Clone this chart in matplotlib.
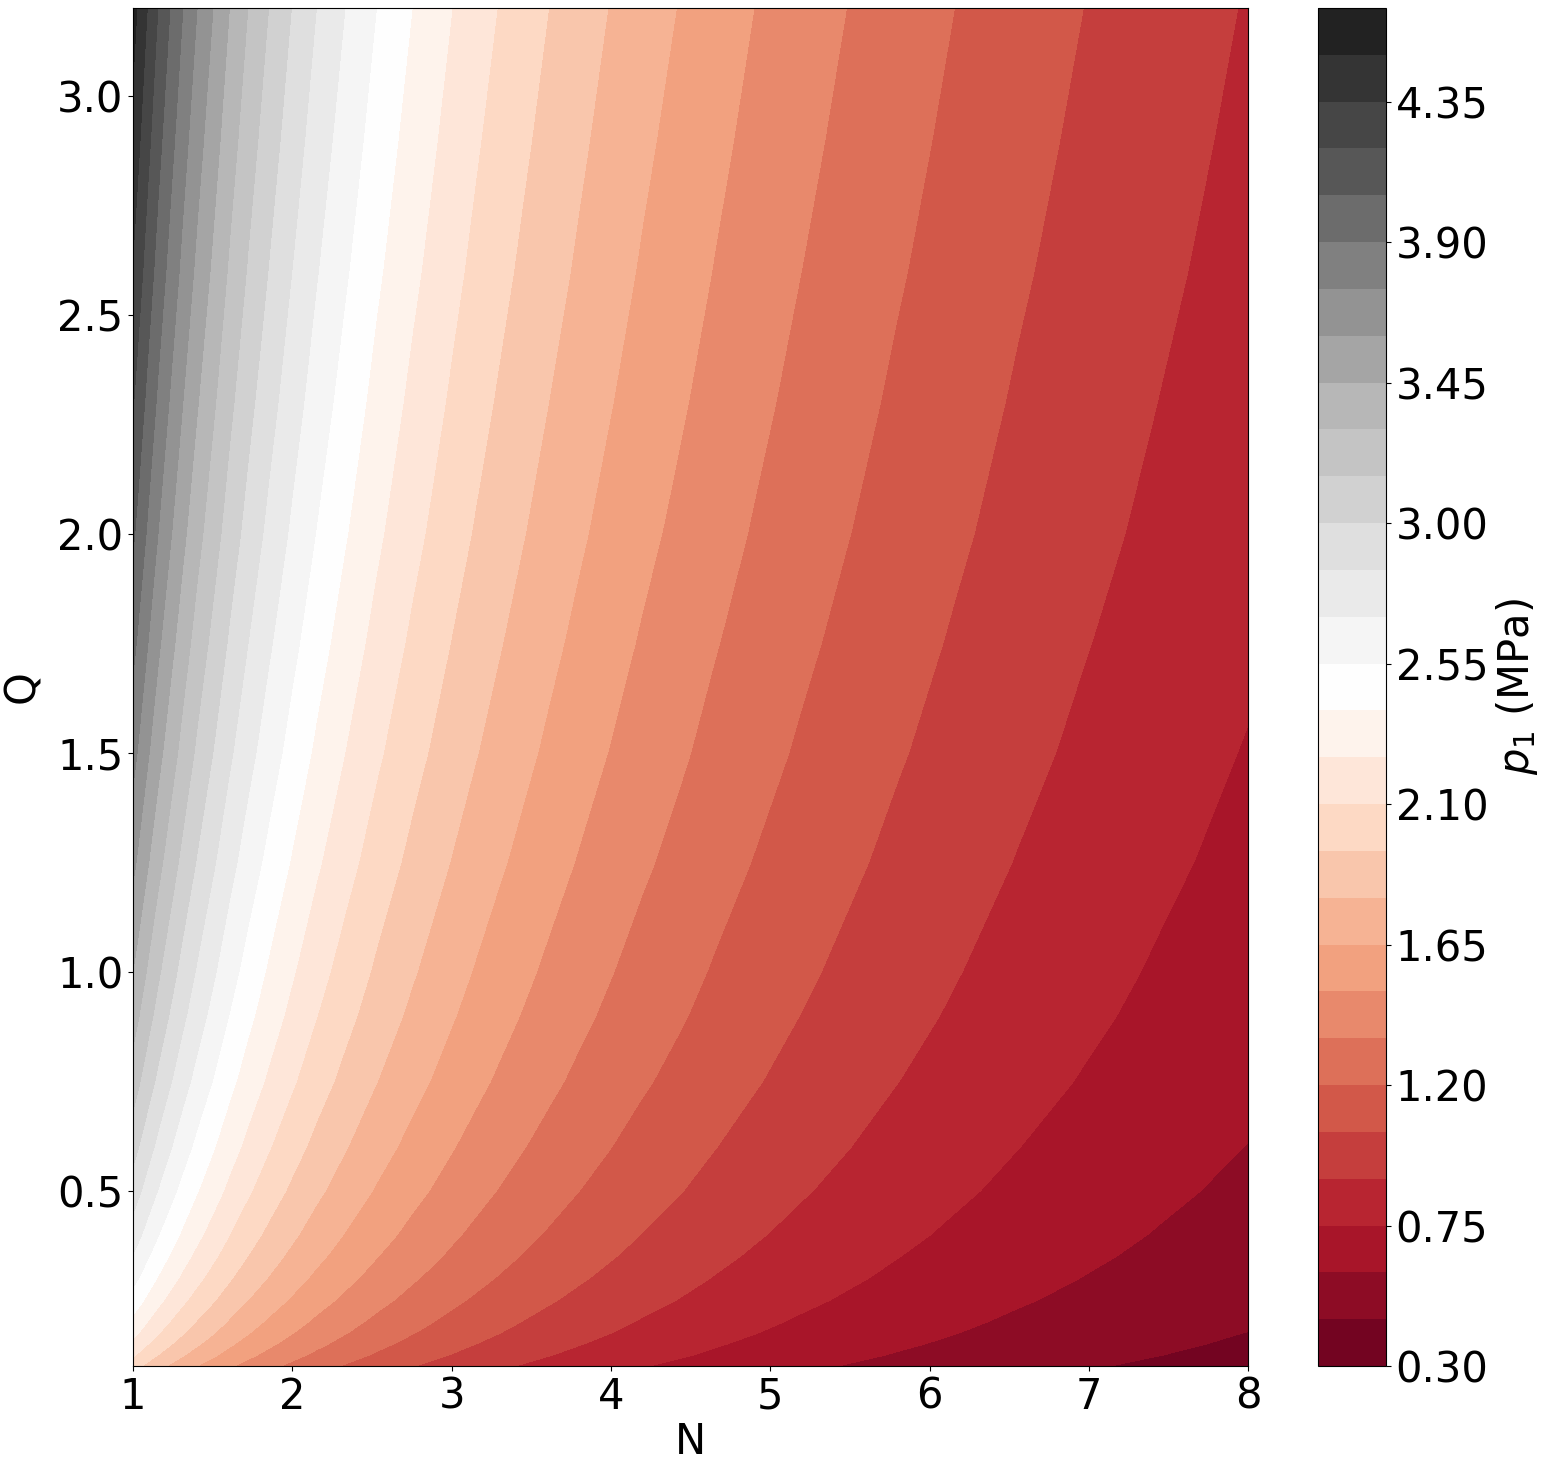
import numpy as np
import matplotlib
matplotlib.use('Agg')
import matplotlib.pyplot as plt

# p1 (MPa) along the top edge Q = 3.2, read where the band edges cross it
n_vals = [1.000, 1.026, 1.089, 1.156, 1.232, 1.313, 1.402, 1.502, 1.605,
          1.721, 1.851, 1.994, 2.151, 2.331, 2.528, 2.752, 3.003, 3.145,
          3.286, 3.447, 3.609, 3.795, 3.981, 4.196, 4.411, 4.650, 4.898,
          5.190, 5.479, 5.800, 6.157, 6.550, 6.966, 7.450, 7.936, 8.000]
p1_top = [4.56, 4.50, 4.35, 4.20, 4.05, 3.90, 3.75, 3.60, 3.45,
          3.30, 3.15, 3.00, 2.85, 2.70, 2.55, 2.40, 2.25, 2.172,
          2.10, 2.023, 1.95, 1.872, 1.80, 1.720, 1.65, 1.572, 1.50,
          1.421, 1.35, 1.275, 1.20, 1.123, 1.05, 0.972, 0.90, 0.892]

# p1 relative to its Q = 3.2 value (the ratio is the same at every N)
q_vals = [0.10, 0.125, 0.15, 0.175, 0.20, 0.25, 0.30, 0.35, 0.40, 0.50, 0.60,
          0.75, 0.90, 1.00, 1.25, 1.50, 1.75, 2.00, 2.30, 2.60, 2.90, 3.20]
q_factor = [0.440, 0.464, 0.484, 0.502, 0.517, 0.545, 0.569, 0.590, 0.609,
            0.642, 0.670, 0.707, 0.738, 0.756, 0.797, 0.833, 0.864, 0.893,
            0.923, 0.951, 0.976, 1.000]

levels = np.arange(0.30, 4.66, 0.15)
cbar_ticks = levels[::3]

p1 = np.outer(q_factor, p1_top)

fs = 30
fig = plt.figure(figsize=(15.51, 14.70), dpi=100)
ax = fig.add_axes([0.0858, 0.0707, 0.7189, 0.9239])
cax = fig.add_axes([0.8498, 0.0707, 0.0438, 0.9239])

cs = ax.contourf(n_vals, q_vals, p1, levels=levels, cmap='RdGy')
ax.set_xlim(1, 8)
ax.set_ylim(0.1, 3.2)
ax.set_xlabel('N', fontsize=fs, labelpad=2)
ax.set_ylabel('Q', fontsize=fs, labelpad=10)
ax.tick_params(labelsize=fs)

cb = fig.colorbar(cs, cax=cax, ticks=cbar_ticks)
cb.ax.set_yticklabels([f'{t:.2f}' for t in cbar_ticks])
cb.ax.tick_params(labelsize=fs)
cb.set_label('$p_1$ (MPa)', fontsize=fs)

plt.savefig('out.png', dpi=100)
